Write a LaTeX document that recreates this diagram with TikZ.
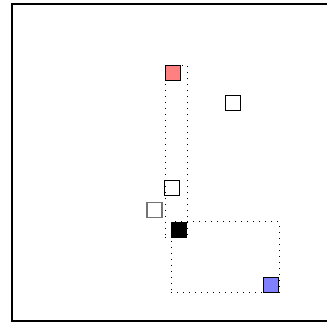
\documentclass[tikz,border=0pt]{standalone}
\usepackage{xcolor}
\usepackage{tikz}
\usetikzlibrary{fit,positioning}
\tikzset{
  sq/.style    = {rectangle, draw=black, line width=0.9pt, minimum size=15pt,
                  inner sep=0pt, fill=white},
  sqr/.style   = {sq, fill=red!50},
  sqb/.style   = {sq, fill=blue!50},
  sqk/.style   = {sq, fill=black},
  sqg/.style   = {sq, draw=black!55, line width=1.1pt},
  grp/.style   = {rectangle, draw=black, line width=0.8pt, inner sep=0pt,
                  dash pattern=on 0.8pt off 5.2pt},
  frm/.style   = {draw=black, line width=2pt},
}

\begin{document}
\begin{tikzpicture}[x=1pt, y=-1pt]

  \useasboundingbox (0,0) rectangle (327,322);
  \draw[frm] (11.5,4) rectangle (328.5,321);

  \node[sqr] (red)  at (173.3,73.3)  {};
  \node[sq]  (w1)   at (233.2,103.2) {};
  \node[sq]  (w2)   at (171.7,187.8) {};
  \node[sqg] (g1)   at (154.5,210.2) {};
  \node[sqk] (blk)  at (179.0,229.7) {};
  \node[sqb] (blue) at (271.3,284.5) {};

  % grouping boxes
  \node[grp, fit=(red)(blk)]  (gA) {};
  \node[grp, fit=(blk)(blue)] (gB) {};

\end{tikzpicture}
\end{document}
